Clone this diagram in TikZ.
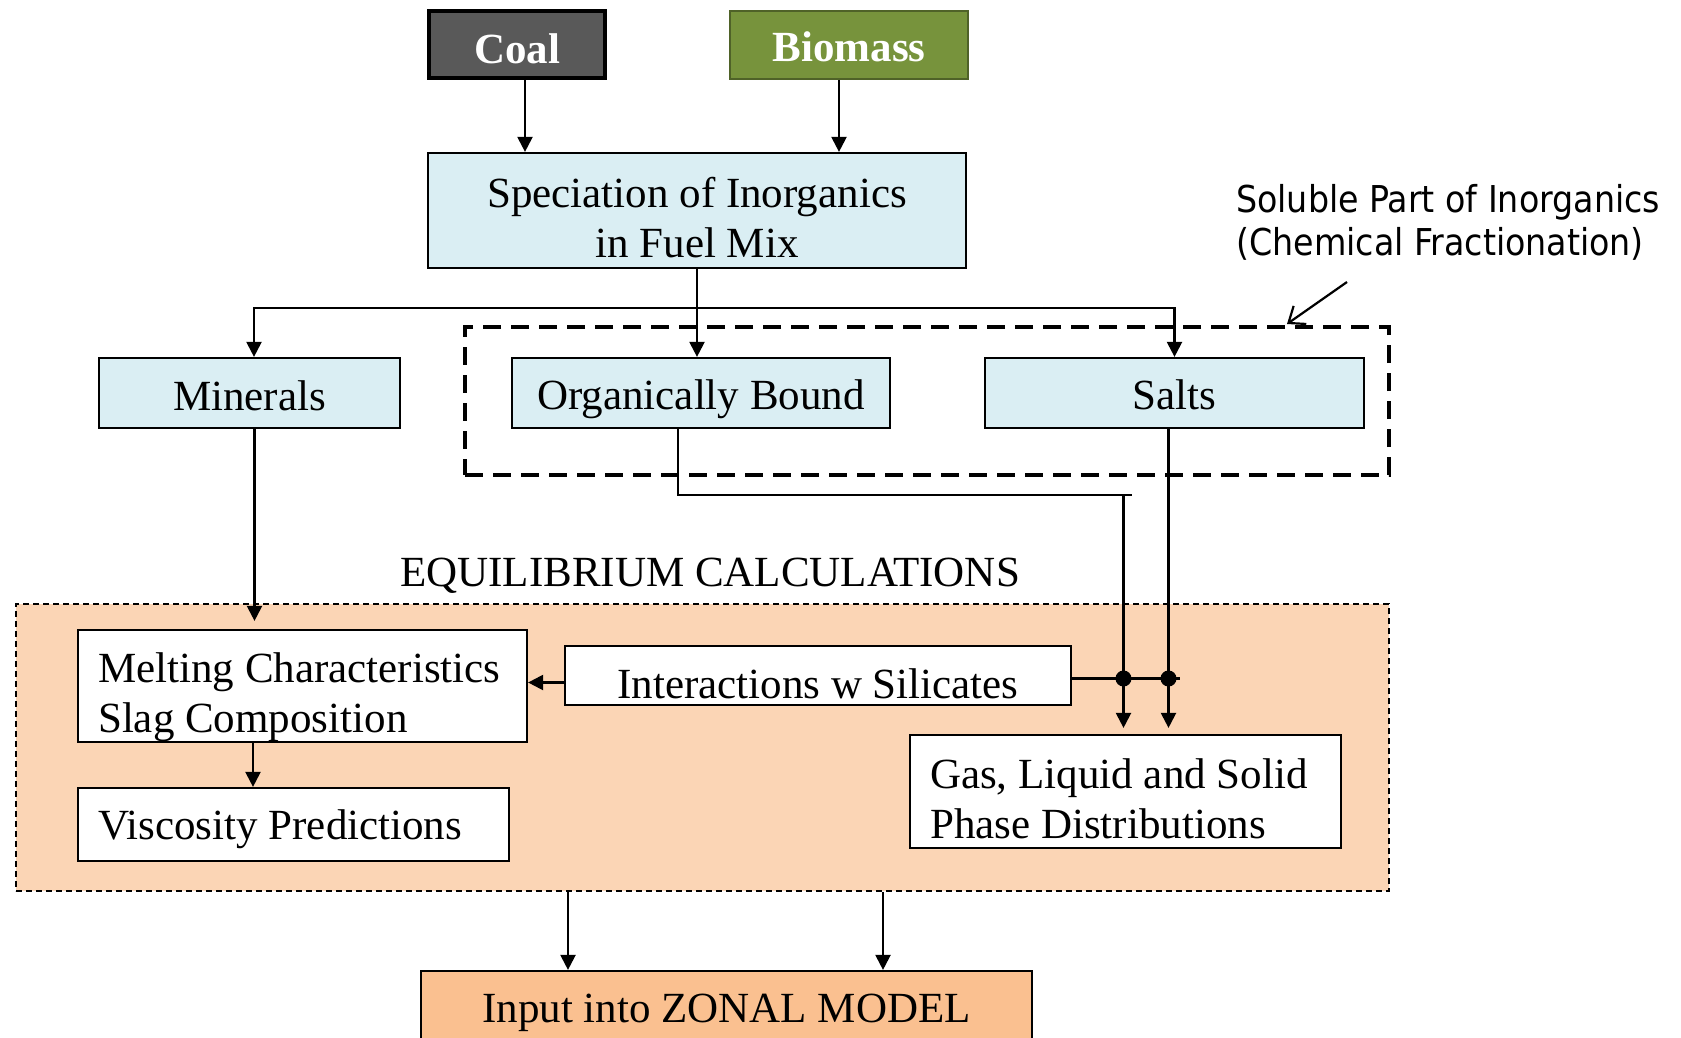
\documentclass[tikz,border=0pt]{standalone}
\usepackage{fontspec}
\setmainfont{Liberation Serif}
\newfontfamily\annfont{DejaVu Sans Condensed}
\usetikzlibrary{arrows.meta,calc}
\definecolor{coalgray}{HTML}{595959}
\definecolor{biogreen}{HTML}{77933C}
\definecolor{biodark}{HTML}{4F6228}
\definecolor{lblue}{HTML}{DAEEF3}
\definecolor{peach}{HTML}{FBD5B5}
\definecolor{orangebox}{HTML}{FAC090}
\begin{document}
\begin{tikzpicture}[x=1pt,y=-1pt,
  txt/.style={font=\fontsize{43}{50.5}\selectfont, inner sep=0pt},
  btxt/.style={font=\fontsize{43}{50}\selectfont\bfseries, text=white, inner sep=0pt},
  ltxt/.style={txt, align=left, anchor=west},
  ctxt/.style={txt, align=center},
  box/.style={draw=black, line width=2.2pt, inner sep=0pt},
  bluebox/.style={box, fill=lblue},
  whitebox/.style={box, fill=white},
  arr/.style={line width=2.2pt, -{Triangle[length=15pt,width=15pt]}},
  conn/.style={line width=2.2pt},
  barb/.style={line width=2.2pt, -{Straight Barb[length=14pt,width=22pt]}},
]
\useasboundingbox (0,0) rectangle (1681,1038);
\clip (0,0) rectangle (1681,1038);

% background group boxes
\node[draw=black, line width=1.6pt, dash pattern=on 6pt off 4pt, fill=peach,
  minimum width=1373pt, minimum height=287pt, inner sep=0pt] (eq) at (702.5,747.5) {};
\node[txt] (eqlabel) at (710,575.5) {EQUILIBRIUM CALCULATIONS};

\node[draw=black, line width=3.8pt, dash pattern=on 18pt off 10pt,
  minimum width=924pt, minimum height=148pt, inner sep=0pt] (sol) at (927,401) {};

% top sources
\node[draw=black, line width=4pt, fill=coalgray, minimum width=176pt, minimum height=67pt, inner sep=0pt] (coal) at (517,44.5) {};
\node[btxt] (coalt) at ([yshift=-4.5pt]coal.center) {Coal};
\node[draw=biodark, line width=1.8pt, fill=biogreen, minimum width=238pt, minimum height=68pt, inner sep=0pt] (bio) at (849,45) {};
\node[btxt] (biot) at ([yshift=-2pt]bio.center) {Biomass};

\node[bluebox, minimum width=538pt, minimum height=115pt] (spec) at (697,210.5) {};
\node[ctxt] (spect) at ([yshift=-7pt]spec.center) {Speciation of Inorganics\\in Fuel Mix};

\node[bluebox, minimum width=301pt, minimum height=70pt] (min) at (249.5,393) {};
\node[txt] (mint) at ([yshift=-3pt]min.center) {Minerals};
\node[bluebox, minimum width=378pt, minimum height=70pt] (ob) at (701,393) {};
\node[txt] (obt) at ([yshift=-6.5pt]ob.center) {Organically Bound};
\node[bluebox, minimum width=379pt, minimum height=70pt] (salts) at (1174.5,393) {};
\node[txt] (saltst) at ([yshift=-2pt]salts.center) {Salts};

\node[anchor=west, inner sep=0pt, align=left, font=\annfont\fontsize{37}{43.5}\selectfont] (ann) at (1236,222.5)
  {Soluble Part of Inorganics\\(Chemical Fractionation)};

% equilibrium content
\node[whitebox, minimum width=449pt, minimum height=112pt] (melt) at (302.5,686) {};
\node[ltxt] (meltt) at ([xshift=21pt,yshift=-11pt]melt.west) {Melting Characteristics\\Slag Composition};
\node[whitebox, minimum width=431pt, minimum height=73pt] (visc) at (293.5,824.5) {};
\node[ltxt] (visct) at ([xshift=21pt,yshift=-4.5pt]visc.west) {Viscosity Predictions};
\node[whitebox, minimum width=506pt, minimum height=59pt] (inter) at (818,675.5) {};
\node[txt] (intert) at ([yshift=-8.5pt]inter.center) {Interactions w Silicates};
\node[whitebox, minimum width=431pt, minimum height=113pt] (gas) at (1125.5,791.5) {};
\node[ltxt] (gast) at ([xshift=21pt,yshift=-7.5pt]gas.west) {Gas, Liquid and Solid\\Phase Distributions};

\node[box, fill=orangebox, minimum width=611pt, minimum height=74pt] (input) at (726.5,1008) {};
\node[txt] (inputt) at ([yshift=-4.5pt]input.center) {Input into ZONAL MODEL};

% connectors top
\draw[arr] ([xshift=8pt]coal.south) -- ([xshift=8pt]coal.south |- spec.north);
\draw[arr] ([xshift=-10pt]bio.south) -- ([xshift=-10pt]bio.south |- spec.north);

\coordinate (jy) at (0,308);
\draw[arr] (spec.south) -- (spec.south |- ob.north);
\draw[arr] (spec.south |- jy) -| ([xshift=4.5pt]min.north);
\draw[arr] (spec.south |- jy) -| (salts.north);

% annotation arrow
\coordinate (annstart) at (1347,282);
\coordinate (annend) at (1287,324);
\draw[barb] (annstart) -- (annend);

% minerals to melting
\draw[arr, shorten >=8pt] ([xshift=5pt]min.south) -- ([xshift=5pt]min.south |- melt.north);
\draw[arr] ([xshift=-49.5pt]melt.south) -- ([xshift=-49.5pt]melt.south |- visc.north);
\draw[arr] ([yshift=-7pt]inter.west) -- ([yshift=-7pt]inter.west -| melt.east);

% organically bound and salts to gas
\coordinate (c1) at ([xshift=-2pt]gas.north);
\coordinate (c2) at ([xshift=43pt]gas.north);
\coordinate (obc) at ([xshift=-23pt]ob.south);
\coordinate (obk) at ($(obc)+(0,66)$);
\draw[arr, shorten >=6pt] (obc) -- (obk) -| (c1);
\draw[conn] (c1 |- obk) -- ++(8,0);
\draw[arr, shorten >=6pt] ([xshift=-6pt]salts.south) -- (c2);

\coordinate (il) at ([yshift=-3pt]inter.east);
\draw[conn] (il) -- ++(108,0);
\fill (c1 |- il) circle (8pt);
\fill (c2 |- il) circle (8pt);

% to zonal model
\draw[arr] ([xshift=-158.5pt]input.north |- eq.south) -- ([xshift=-158.5pt]input.north);
\draw[arr] ([xshift=156.5pt]input.north |- eq.south) -- ([xshift=156.5pt]input.north);
\end{tikzpicture}
\end{document}
